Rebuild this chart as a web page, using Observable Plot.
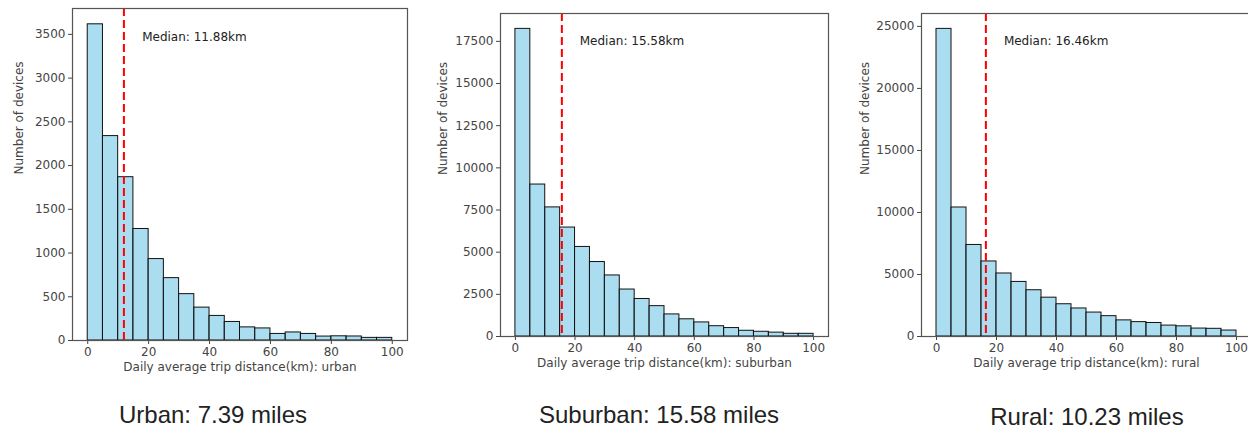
<!DOCTYPE html>
<html>
<head>
<meta charset="utf-8">
<script src="https://cdn.jsdelivr.net/npm/d3@7"></script>
<script src="https://cdn.jsdelivr.net/npm/@observablehq/plot@0.6"></script>
<style>
  html, body { margin: 0; padding: 0; background: #fff; overflow: hidden; }
  #root { position: relative; width: 1248px; height: 429px; overflow: hidden; background: #fff; }
  .panel { position: absolute; top: 0; }
  .caption { position: absolute; transform: translateX(-50%); white-space: nowrap;
    font-family: "Liberation Sans", Arial, sans-serif; font-size: 24px; line-height: 24px; color: #222; }
</style>
</head>
<body>
<div id="root"></div>
<script>
// ---- data ----
const binEdges = [0, 5, 10, 15, 20, 25, 30, 35, 40, 45, 50, 55, 60, 65, 70, 75, 80, 85, 90, 95, 100];
const xTicks = [0, 20, 40, 60, 80, 100];

const urbanCounts = [3615, 2337, 1867, 1275, 931, 713, 530, 376, 281, 212, 150, 138, 75, 92, 75, 45, 48, 46, 30, 30];
const suburbanCounts = [18240, 9010, 7655, 6460, 5310, 4415, 3620, 2785, 2225, 1800, 1310, 1020, 835, 610, 500, 340, 280, 230, 160, 160];
const ruralCounts = [24800, 10400, 7380, 6050, 5080, 4400, 3730, 3130, 2600, 2260, 1930, 1640, 1300, 1160, 1090, 880, 820, 640, 620, 480];

const urbanYTicks = [0, 500, 1000, 1500, 2000, 2500, 3000, 3500];
const suburbanYTicks = [0, 2500, 5000, 7500, 10000, 12500, 15000, 17500];
const ruralYTicks = [0, 5000, 10000, 15000, 20000, 25000];

const medians = [11.88, 15.58, 16.46];
const medianLabels = ["Median: 11.88km", "Median: 15.58km", "Median: 16.46km"];
const xLabels = ["Daily average trip distance(km): urban", "Daily average trip distance(km): suburban", "Daily average trip distance(km): rural"];
const yLabel = "Number of devices";
const captions = ["Urban: 7.39 miles", "Suburban: 15.58 miles", "Rural: 10.23 miles"];

// ---- layout ----
const panels = [
  {counts: urbanCounts, yTicks: urbanYTicks, left: 0, width: 420, mL: 72, mR: 13, mT: 8, mB: 45, yDx: -53, cx: 213, cy: 403},
  {counts: suburbanCounts, yTicks: suburbanYTicks, left: 420, width: 420, mL: 80, mR: 12, mT: 13, mB: 49, yDx: -57, cx: 659, cy: 403},
  {counts: ruralCounts, yTicks: ruralYTicks, left: 840, width: 412, mL: 81, mR: 1, mT: 13, mB: 49, yDx: -56, cx: 1087, cy: 405}
];

const root = document.getElementById("root");

panels.forEach((p, i) => {
  const bins = p.counts.map((c, j) => ({x1: binEdges[j], x2: binEdges[j + 1], y: c}));
  const maxC = d3.max(p.counts);
  const chart = Plot.plot({
    width: p.width,
    height: 385,
    marginLeft: p.mL,
    marginRight: p.mR,
    marginTop: p.mT,
    marginBottom: p.mB,
    style: {fontFamily: "DejaVu Sans, sans-serif", fontSize: "12px", color: "#444", background: "transparent", overflow: "visible"},
    x: {domain: [-5, 105], ticks: xTicks, tickSize: 4, tickPadding: 3, label: null},
    y: {domain: [0, maxC * 1.05], ticks: p.yTicks, tickFormat: d3.format("d"), tickSize: 4, tickPadding: 3, label: null},
    marks: [
      Plot.rectY(bins, {x1: "x1", x2: "x2", y: "y", fill: "skyblue", fillOpacity: 0.7, stroke: "#111", strokeWidth: 1, inset: 0}),
      Plot.ruleX([medians[i]], {stroke: "red", strokeWidth: 2, strokeDasharray: "8,4"}),
      Plot.text([medianLabels[i]], {x: medians[i] + 6, y: maxC * 0.96, textAnchor: "start", fill: "#222", fontSize: 12}),
      Plot.frame({stroke: "#555", strokeWidth: 1.2}),
      Plot.text([xLabels[i]], {frameAnchor: "bottom", dy: 30, fill: "#444", fontSize: 12}),
      Plot.text([yLabel], {frameAnchor: "left", rotate: -90, dx: p.yDx, fill: "#444", fontSize: 12})
    ]
  });
  chart.classList.add("panel");
  chart.style.left = p.left + "px";
  root.appendChild(chart);

  const cap = document.createElement("div");
  cap.className = "caption";
  cap.style.left = p.cx + "px";
  cap.style.top = p.cy + "px";
  cap.textContent = captions[i];
  root.appendChild(cap);
});
</script>
</body>
</html>
